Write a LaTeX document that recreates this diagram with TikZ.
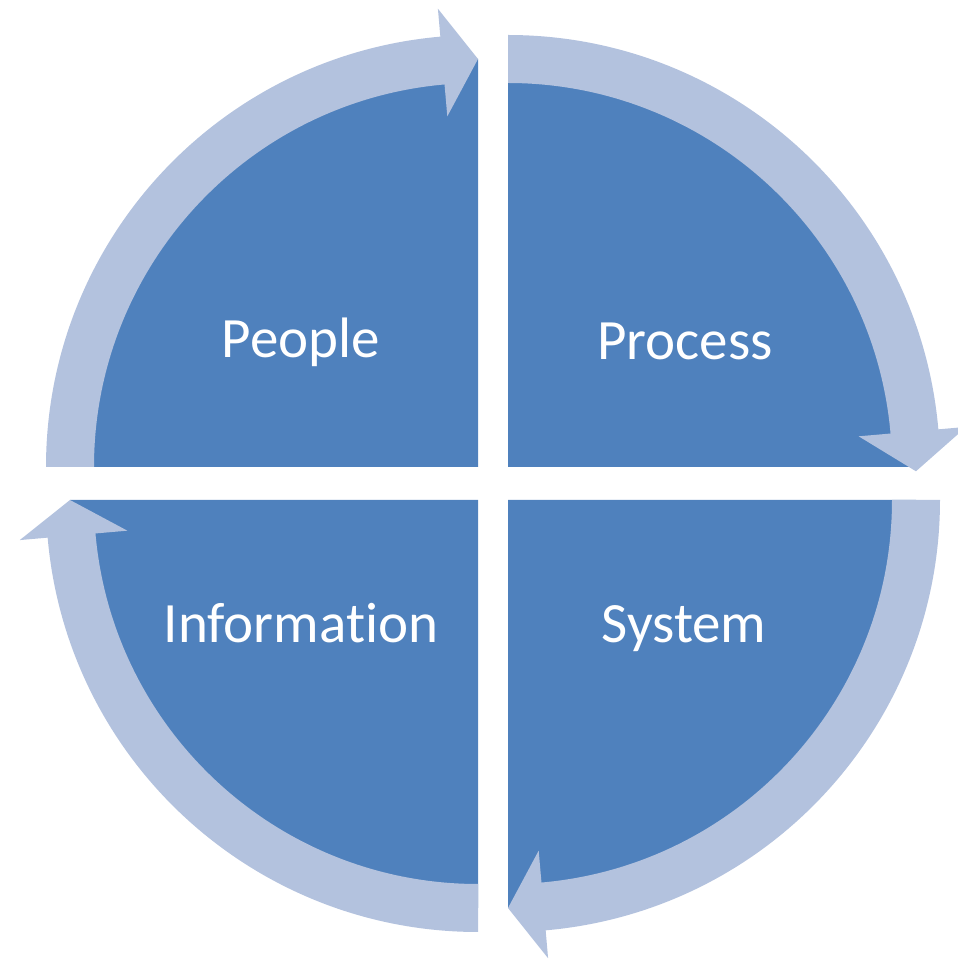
\documentclass[tikz,border=0pt]{standalone}
\usepackage{fontspec}
\setmainfont{Carlito}[Ligatures={NoCommon}]
\usetikzlibrary{calc}
\definecolor{darkq}{HTML}{4F81BD}
\definecolor{lightq}{HTML}{B3C2DE}
\begin{document}
\begin{tikzpicture}[x=1pt,y=1pt,
  sector/.style={fill=darkq,draw=none},
  band/.style={fill=lightq,draw=none},
  lab/.style={text=white,font=\fontsize{57}{60}\selectfont,anchor=base,inner sep=0pt}]
\useasboundingbox (0,0) rectangle (958,962);
\def\R{408}
\def\ri{384}
\def\ro{432}
\def\hi{352}
\def\ho{460}
% quadrant centres
\coordinate (tl) at (478,495);
\coordinate (tr) at (508,495);
\coordinate (br) at (508,462);
\coordinate (bl) at (478,462);
% dark sectors
\fill[sector] (tl) -- ++(180:\R) arc[start angle=180,end angle=90,radius=\R] -- cycle;
\fill[sector] (tr) -- ++(90:\R) arc[start angle=90,end angle=0,radius=\R] -- cycle;
\fill[sector] (br) -- ++(0:\R) arc[start angle=0,end angle=-90,radius=\R] -- cycle;
\fill[sector] (bl) -- ++(-90:\R) arc[start angle=-90,end angle=-180,radius=\R] -- cycle;
% arrow bands
\fill[band] ($(tl)+(180:\ro)$) arc[start angle=180,end angle=95,radius=\ro]
  -- ($(tl)+(95:\ho)$) -- ($(tl)+(90:\R)$) -- ($(tl)+(95:\hi)$) -- ($(tl)+(95:\ri)$)
  arc[start angle=95,end angle=180,radius=\ri] -- cycle;
\fill[band] ($(tr)+(90:\ro)$) arc[start angle=90,end angle=5,radius=\ro]
  -- ($(tr)+(5:\ho)$) -- ($(tr)+(-0.6:\R)$) -- ($(tr)+(5:\hi)$) -- ($(tr)+(5:\ri)$)
  arc[start angle=5,end angle=90,radius=\ri] -- cycle;
\fill[band] ($(br)+(0:\ro)$) arc[start angle=0,end angle=-85,radius=\ro]
  -- ($(br)+(-85:\ho)$) -- ($(br)+(-90:\R)$) -- ($(br)+(-85:\hi)$) -- ($(br)+(-85:\ri)$)
  arc[start angle=-85,end angle=0,radius=\ri] -- cycle;
\fill[band] ($(bl)+(-90:\ro)$) arc[start angle=-90,end angle=-175,radius=\ro]
  -- ($(bl)+(-175:\ho)$) -- ($(bl)+(-180:\R)$) -- ($(bl)+(-175:\hi)$) -- ($(bl)+(-175:\ri)$)
  arc[start angle=-175,end angle=-90,radius=\ri] -- cycle;
% labels
\node[lab] (people) at (301,604) {People};
\node[lab] (process) at (685,602) {Process};
\node[lab] (information) at (301,319) {Information};
\node[lab] (system) at (684,319) {System};
\end{tikzpicture}
\end{document}
